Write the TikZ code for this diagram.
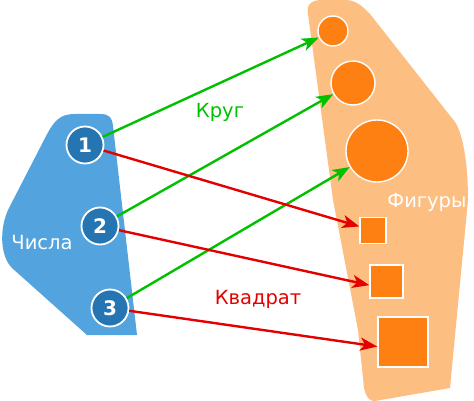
\documentclass[tikz,border=0pt]{standalone}
\usepackage{fontspec}
\setmainfont{DejaVu Sans}
\usetikzlibrary{arrows.meta,positioning}
\definecolor{blobblue}{RGB}{82,163,222}
\definecolor{numblue}{RGB}{37,117,178}
\definecolor{bloborange}{RGB}{253,190,130}
\definecolor{shapeorange}{RGB}{255,128,18}
\definecolor{arrgreen}{RGB}{0,192,0}
\definecolor{arrred}{RGB}{228,0,0}

\begin{document}
\begin{tikzpicture}[x=1pt,y=-1pt,
        num/.style={circle,draw=white,line width=1.8pt,fill=numblue,text=white,font=\fontsize{20}{20}\selectfont\bfseries,minimum size=37pt,inner sep=0pt},
        krug/.style={circle,draw=white,line width=1.4pt,fill=shapeorange,inner sep=0pt},
        kvadrat/.style={rectangle,draw=white,line width=1.4pt,fill=shapeorange,inner sep=0pt},
        link/.style={line width=2.4pt,-{Stealth[length=17pt,width=13pt,inset=4.5pt]}},
        lbl/.style={font=\fontsize{19.5}{20}\selectfont}]
        \useasboundingbox (0,0) rectangle (474,401);

        % blobs
        \fill[blobblue] (87,335) -- (12,268) .. controls (0,256) and (-1,228) .. (9,208)
            -- (44,140) .. controls (54,120) and (60,114) .. (75,114) -- (100,114)
            .. controls (110,114) and (112,118) .. (113,126) -- (137,335) -- cycle;
        \fill[bloborange] (308,14) .. controls (306,4) and (312,0) .. (322,0) -- (345,0)
            .. controls (356,0) and (362,6) .. (370,14) -- (455,122)
            .. controls (462,132) and (468,160) .. (468,200) -- (450,388)
            -- (375,401) .. controls (368,401) and (366,396) .. (364,388)
            -- (358,330) -- (333,200) -- cycle;

        \node[lbl,text=white] (chisla) at (42,243) {Числа};
        \node[lbl,text=white] (figury) at (427,202) {Фигуры};

        \node[num] (n1) at (85,145) {1};
        \node[num] (n2) at (100,226) {2};
        \node[num] (n3) at (110,308) {3};

        \node[krug,minimum size=30pt] (c1) at (333,31) {};
        \node[krug,minimum size=44pt] (c2) at (353,83) {};
        \node[krug,minimum size=62pt] (c3) at (377,151) {};

        \node[kvadrat,minimum size=26pt] (s1) at (373,230.5) {};
        \node[kvadrat,minimum size=33pt] (s2) at (386.5,281.5) {};
        \node[kvadrat,minimum size=50pt] (s3) at (403,342) {};

        \draw[link,arrgreen] (n1) -- (c1);
        \draw[link,arrgreen] (n2) -- (c2);
        \draw[link,arrgreen] (n3) -- (c3);
        \draw[link,arrred] (n1) -- (s1);
        \draw[link,arrred] (n2) -- (s2.192);
        \draw[link,arrred] (n3) -- (s3.190);

        \node[lbl,text=arrgreen] (krugtxt) at (220,112) {Круг};
        \node[lbl,text=arrred] (kvtxt) at (258,299) {Квадрат};
    \end{tikzpicture}
\end{document}
